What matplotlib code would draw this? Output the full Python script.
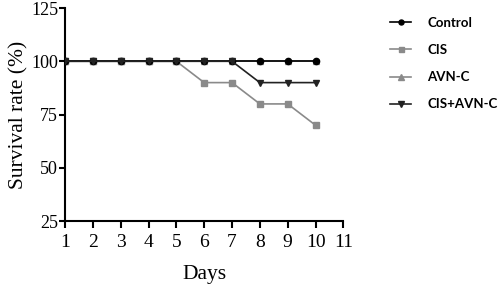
import matplotlib
matplotlib.use("Agg")
import matplotlib.pyplot as plt

days = [1, 2, 3, 4, 5, 6, 7, 8, 9, 10]
control = [100, 100, 100, 100, 100, 100, 100, 100, 100, 100]
cis = [100, 100, 100, 100, 100, 90, 90, 80, 80, 70]
avn_c = [100, 100, 100, 100, 100, 100, 100, 100, 100, 100]
cis_avn_c = [100, 100, 100, 100, 100, 100, 100, 90, 90, 90]
labels = ["Control", "CIS", "AVN-C", "CIS+AVN-C"]
xticks = [1, 2, 3, 4, 5, 6, 7, 8, 9, 10, 11]
yticks = [25, 50, 75, 100, 125]

fig = plt.figure(figsize=(4.98, 2.91), dpi=100)
ax = fig.add_axes([0.1305, 0.24, 0.559, 0.7325])

serif = "Liberation Serif"
ax.plot(days, control, color="black", marker="o", markersize=4.5, lw=1.2, label=labels[0], zorder=3)
ax.plot(days, cis, color="#8a8a8a", marker="s", markersize=4.5, lw=1.2, label=labels[1], zorder=2)
ax.plot(days, avn_c, color="#8a8a8a", marker="^", markersize=5, lw=1.2, label=labels[2], zorder=1)
ax.plot(days, cis_avn_c, color="#222222", marker="v", markersize=5, lw=1.2, label=labels[3], zorder=4)

ax.set_xlim(1, 11)
ax.set_ylim(25, 125)
ax.set_xticks(xticks)
ax.set_yticks(yticks)
for s in ["top", "right"]:
    ax.spines[s].set_visible(False)
for s in ["left", "bottom"]:
    ax.spines[s].set_linewidth(1.5)
ax.tick_params(axis="y", width=1.5, length=4, labelsize=13, pad=1)
ax.tick_params(axis="x", width=1.5, length=5, labelsize=14, pad=4)
for t in ax.get_xticklabels() + ax.get_yticklabels():
    t.set_fontfamily(serif)
ax.set_xlabel("Days", fontsize=15.5, fontfamily=serif, labelpad=10)
ax.set_ylabel("Survival rate (%)", fontsize=15.5, fontfamily=serif, labelpad=2)

fig.legend(loc="upper left", bbox_to_anchor=(0.773, 0.96), frameon=False,
           prop={"family": "Lato", "weight": "bold", "size": 9.5},
           handlelength=1.6, handletextpad=1.2, labelspacing=1.15, borderaxespad=0,
           markerscale=0.8)

fig.savefig("out.png", dpi=100)
